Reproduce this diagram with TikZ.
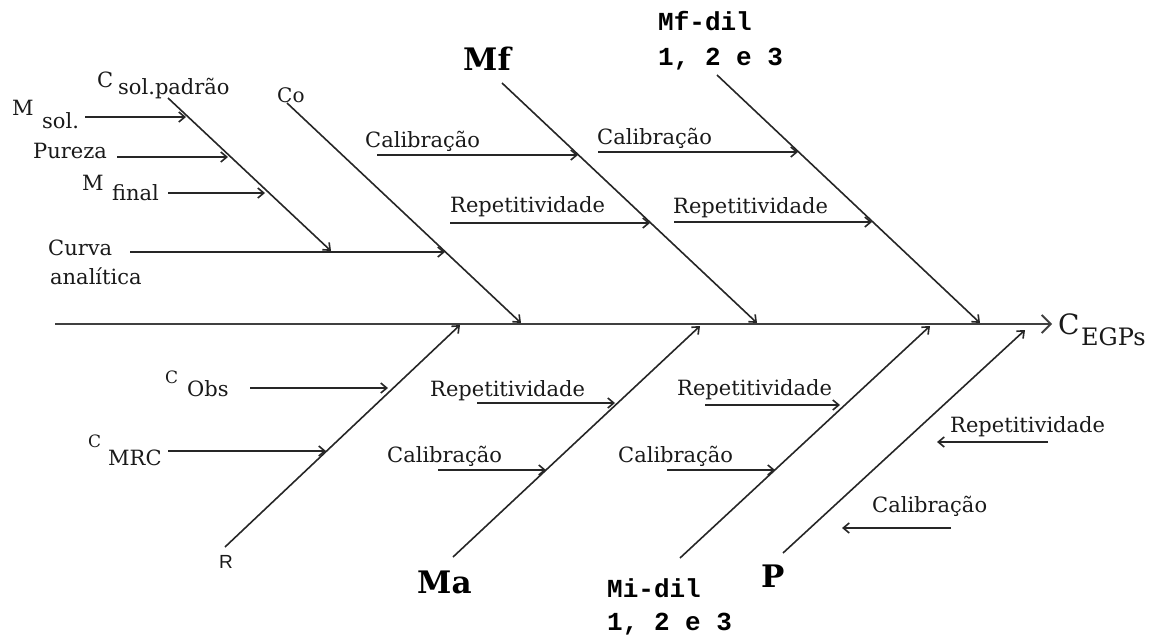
\documentclass[tikz,border=0pt]{standalone}
\usepackage{fontspec}
\setmainfont{DejaVu Serif}
\newfontfamily\monob{Liberation Mono}
\newfontfamily\sansf{Liberation Sans}
\usetikzlibrary{arrows.meta}
\begin{document}
\begin{tikzpicture}[x=1pt,y=-1pt,
 lbl/.style={anchor=base west,inner sep=0pt,text=black!90,font=\fontsize{21}{25}\selectfont},
 smallc/.style={anchor=base west,inner sep=0pt,text=black!90,font=\fontsize{17}{20}\selectfont},
 head/.style={anchor=base west,inner sep=0pt,font=\bfseries\fontsize{31}{35}\selectfont},
 monohead/.style={anchor=base west,inner sep=0pt,font=\monob\bfseries\fontsize{26}{30}\selectfont},
 sanslbl/.style={anchor=base west,inner sep=0pt,text=black!90,font=\sansf\fontsize{19}{22}\selectfont},
 bone/.style={draw=black!85,line width=1.6pt,-{Straight Barb[length=6pt,width=10pt]}},
 arr/.style={draw=black!85,line width=1.6pt,-{Straight Barb[length=6pt,width=10pt]}},
 spine/.style={draw=black!75,line width=2.6pt,-{Straight Barb[length=9pt,width=18pt,line width=1.8pt]}}]
\useasboundingbox (0,0) rectangle (1172,637);

% spine
\coordinate (s0) at (55,324);
\coordinate (s1) at (1052,324);
\draw[spine] (s0) -- (s1);
\node[lbl,font=\fontsize{28}{30}\selectfont] (cegC) at (1058,334) {C};
\node[lbl,font=\fontsize{24}{28}\selectfont] (cegS) at (1081,345) {EGPs};

% upper bones
\coordinate (b1s) at (168,98);  \coordinate (b1e) at (331,251);
\coordinate (b2s) at (287,103); \coordinate (b2e) at (521,323);
\coordinate (b3s) at (502,83);  \coordinate (b3e) at (757,323);
\coordinate (b4s) at (717,75);  \coordinate (b4e) at (980,323);
\draw[bone] (b1s) -- (b1e);
\draw[bone] (b2s) -- (b2e);
\draw[bone] (b3s) -- (b3e);
\draw[bone] (b4s) -- (b4e);

% lower bones
\coordinate (b5s) at (225,547); \coordinate (b5e) at (460,325);
\coordinate (b6s) at (453,557); \coordinate (b6e) at (700,326);
\coordinate (b7s) at (680,558); \coordinate (b7e) at (930,326);
\coordinate (b8s) at (783,553); \coordinate (b8e) at (1025,330);
\draw[bone] (b5s) -- (b5e);
\draw[bone] (b6s) -- (b6e);
\draw[bone] (b7s) -- (b7e);
\draw[bone] (b8s) -- (b8e);

% top-left labels
\node[lbl] (csC) at (97,87) {C};
\node[lbl] (csS) at (118,94) {sol.padrão};
\node[lbl] (msM) at (12,115) {M};
\node[lbl] (msS) at (42,128) {sol.};
\node[lbl] (pur) at (33,158) {Pureza};
\node[lbl] (mfM) at (82,190) {M};
\node[lbl] (mfS) at (112,200) {final};
\node[lbl] (cur1) at (48,255) {Curva};
\node[lbl] (cur2) at (50,284) {analítica};
\node[lbl,font=\fontsize{20}{23}\selectfont] (co) at (277,102) {Co};

\coordinate (a1s) at (85,117);  \coordinate (a1e) at (186,117);
\coordinate (a2s) at (117,157); \coordinate (a2e) at (228,157);
\coordinate (a3s) at (168,193); \coordinate (a3e) at (265,193);
\coordinate (a4s) at (130,252); \coordinate (a4e) at (445,252);
\draw[arr] (a1s) -- (a1e);
\draw[arr] (a2s) -- (a2e);
\draw[arr] (a3s) -- (a3e);
\draw[arr] (a4s) -- (a4e);

% upper middle
\node[head] (mf) at (463,70) {Mf};
\node[monohead] (mfd1) at (658,30) {Mf-dil};
\node[monohead] (mfd2) at (658,65) {1, 2 e 3};
\node[lbl] (cal1) at (365,147) {Calibração};
\node[lbl] (rep1) at (450,212) {Repetitividade};
\node[lbl] (cal2) at (597,144) {Calibração};
\node[lbl] (rep2) at (673,213) {Repetitividade};
\coordinate (a5s) at (377,155); \coordinate (a5e) at (578,155);
\coordinate (a6s) at (450,223); \coordinate (a6e) at (650,223);
\coordinate (a7s) at (598,152); \coordinate (a7e) at (798,152);
\coordinate (a8s) at (674,222); \coordinate (a8e) at (872,222);
\draw[arr] (a5s) -- (a5e);
\draw[arr] (a6s) -- (a6e);
\draw[arr] (a7s) -- (a7e);
\draw[arr] (a8s) -- (a8e);

% lower left
\node[smallc] (coC) at (165,383) {C};
\node[lbl] (coS) at (187,396) {Obs};
\node[smallc] (cmC) at (88,447) {C};
\node[lbl] (cmS) at (108,465) {MRC};
\node[sanslbl] (r) at (219,568) {R};
\coordinate (a9s) at (250,388);  \coordinate (a9e) at (388,388);
\coordinate (a10s) at (168,451); \coordinate (a10e) at (326,451);
\draw[arr] (a9s) -- (a9e);
\draw[arr] (a10s) -- (a10e);

% lower middle
\node[lbl] (rep3) at (430,396) {Repetitividade};
\node[lbl] (cal3) at (387,462) {Calibração};
\node[lbl] (rep4) at (677,395) {Repetitividade};
\node[lbl] (cal4) at (618,462) {Calibração};
\coordinate (a11s) at (477,403); \coordinate (a11e) at (615,403);
\coordinate (a12s) at (438,470); \coordinate (a12e) at (546,470);
\coordinate (a13s) at (705,405); \coordinate (a13e) at (840,405);
\coordinate (a14s) at (667,470); \coordinate (a14e) at (775,470);
\draw[arr] (a11s) -- (a11e);
\draw[arr] (a12s) -- (a12e);
\draw[arr] (a13s) -- (a13e);
\draw[arr] (a14s) -- (a14e);

% lower right
\node[lbl] (rep5) at (950,432) {Repetitividade};
\node[lbl] (cal5) at (872,512) {Calibração};
\coordinate (a15s) at (1048,442); \coordinate (a15e) at (937,442);
\coordinate (a16s) at (951,528);  \coordinate (a16e) at (842,528);
\draw[arr] (a15s) -- (a15e);
\draw[arr] (a16s) -- (a16e);

% bottom heads
\node[head] (ma) at (417,593) {Ma};
\node[monohead] (mid1) at (607,597) {Mi-dil};
\node[monohead] (mid2) at (607,630) {1, 2 e 3};
\node[head] (p) at (761,587) {P};
\end{tikzpicture}
\end{document}
